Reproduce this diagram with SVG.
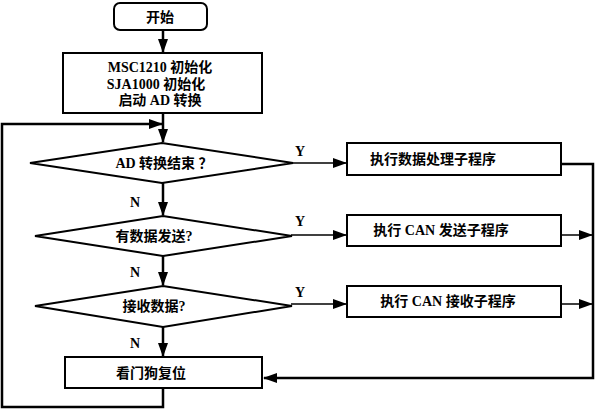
<svg xmlns="http://www.w3.org/2000/svg" width="596" height="411" viewBox="0 0 596 411">
<style>
.n{fill:#fff;stroke:#000;stroke-width:2}
.t{font-family:"Liberation Serif","Noto Sans CJK SC",serif;font-size:14px;font-weight:bold;fill:#000;text-anchor:middle;dominant-baseline:central}
.l{fill:none;stroke:#000;stroke-width:2.5}
.th{fill:none;stroke:#000;stroke-width:1.5}
.lb{font-family:"Liberation Serif",serif;font-size:14px;font-weight:bold;fill:#000;text-anchor:middle;dominant-baseline:central}
</style>
<defs>
<marker id="a" markerWidth="14" markerHeight="10" refX="13" refY="5" orient="auto" markerUnits="userSpaceOnUse">
<path d="M0,0 L14,5 L0,10 Z" fill="#000"/>
</marker>
</defs>
<rect width="596" height="411" fill="#fff"/>
<g id="connectors">
<path class="l" d="M163,30 V52" marker-end="url(#a)"/>
<path class="l" d="M163,113 V142" marker-end="url(#a)"/>
<path class="l" d="M163,388 V407 H2 V124 H162" marker-end="url(#a)"/>
<path class="l" d="M163,183 V215" marker-end="url(#a)"/>
<path class="l" d="M163,256 V285" marker-end="url(#a)"/>
<path class="l" d="M163,327 V356" marker-end="url(#a)"/>
<path class="th" d="M291,163 H346" marker-end="url(#a)"/>
<path class="th" d="M291,235 H346" marker-end="url(#a)"/>
<path class="th" d="M291,304 H346" marker-end="url(#a)"/>
<path class="l" d="M561,164 H593 V378 H264" marker-end="url(#a)"/>
<path class="th" d="M561,235 H592" marker-end="url(#a)"/>
<path class="th" d="M561,304 H592" marker-end="url(#a)"/>
<text class="lb" x="300" y="151">Y</text>
<text class="lb" x="300" y="221">Y</text>
<text class="lb" x="300" y="292">Y</text>
<text class="lb" x="135" y="202">N</text>
<text class="lb" x="135" y="272">N</text>
<text class="lb" x="135" y="343">N</text>
</g>
<g id="start">
<rect class="n" x="114" y="3" width="93" height="27" rx="6"/>
<text class="t" x="160" y="17">开始</text>
</g>
<g id="init">
<rect class="n" x="63" y="53" width="199" height="60"/>
<text class="t" x="160" y="67">MSC1210 初始化</text>
<text class="t" x="156" y="84">SJA1000 初始化</text>
<text class="t" x="160" y="100">启动 AD 转换</text>
</g>
<g id="d1">
<polygon class="n" points="30,163 162,143 293,163 162,183"/>
<text class="t" x="164" y="163">AD 转换结束 ？</text>
</g>
<g id="d2">
<polygon class="n" points="35,236 163,216 292,236 163,256"/>
<text class="t" x="154" y="236">有数据发送?</text>
</g>
<g id="d3">
<polygon class="n" points="35,306 163,286 292,306 163,327"/>
<text class="t" x="154" y="306">接收数据?</text>
</g>
<g id="p1">
<rect class="n" x="347" y="143" width="214" height="32"/>
<text class="t" x="433" y="159">执行数据处理子程序</text>
</g>
<g id="p2">
<rect class="n" x="347" y="215" width="214" height="31"/>
<text class="t" x="441" y="230">执行 CAN 发送子程序</text>
</g>
<g id="p3">
<rect class="n" x="347" y="286" width="214" height="31"/>
<text class="t" x="448" y="301">执行 CAN 接收子程序</text>
</g>
<g id="watchdog">
<rect class="n" x="65" y="357" width="197" height="31"/>
<text class="t" x="151" y="373">看门狗复位</text>
</g>
</svg>
